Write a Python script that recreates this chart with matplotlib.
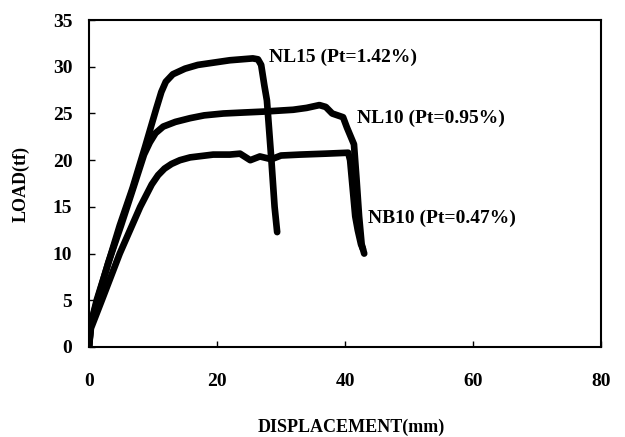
import matplotlib
matplotlib.use("Agg")
import matplotlib.pyplot as plt

# NL15 (Pt=1.42%)
nl15_x = [0, 0.3, 1.2, 2.8, 4.8, 6.8, 8.75, 10.5, 11.3, 12.0, 13.1, 15, 17, 19, 22, 25.6, 26.4, 26.9, 27.4, 27.8, 28.5, 29.0, 29.4]
nl15_y = [0, 2.5, 5.0, 8.5, 13.0, 17.0, 21.4, 25.5, 27.3, 28.4, 29.2, 29.8, 30.2, 30.4, 30.7, 30.9, 30.8, 30.2, 28.0, 26.4, 20.0, 15.0, 12.3]

# NL10 (Pt=0.95%)
nl10_x = [0, 0.3, 1.3, 3, 5, 7, 8.6, 9.5, 10.4, 11.6, 13.5, 15.8, 18, 21, 24, 27.2, 31.9, 34, 36, 37, 38, 39.7, 40.3, 41.4, 41.8, 42.2, 42.6, 43.0]
nl10_y = [0, 2.5, 5.0, 9.0, 13.0, 17.2, 20.6, 21.9, 22.9, 23.6, 24.1, 24.5, 24.8, 25.0, 25.1, 25.2, 25.4, 25.6, 25.9, 25.7, 25.0, 24.6, 23.5, 21.7, 18.0, 14.0, 11.0, 10.0]

# NB10 (Pt=0.47%)
nb10_x = [0, 0.3, 2.0, 4.8, 8, 9.8, 10.8, 11.8, 12.9, 14.2, 15.8, 19.4, 22, 23.6, 25.2, 26.7, 28.5, 30, 33, 37, 40.5, 40.8, 41.2, 41.6, 42.0, 42.5, 42.8]
nb10_y = [0, 2.0, 5.0, 10.0, 15.0, 17.4, 18.4, 19.1, 19.6, 20.0, 20.3, 20.6, 20.6, 20.7, 20.0, 20.4, 20.1, 20.5, 20.6, 20.7, 20.8, 20.0, 17.0, 14.0, 12.5, 11.0, 10.5]

labels = ["NL15 (Pt=1.42%)", "NL10 (Pt=0.95%)", "NB10 (Pt=0.47%)"]
label_pos = [(28.2, 31.0), (41.9, 24.5), (43.6, 13.8)]

x_ticks = [0, 20, 40, 60, 80]
y_ticks = [0, 5, 10, 15, 20, 25, 30, 35]

serif = ["Liberation Serif", "DejaVu Serif"]
plt.rcParams['font.family'] = serif

fig = plt.figure(figsize=(6.25, 4.37), dpi=100)
ax = fig.add_axes([0.1424, 0.206, 0.8192, 0.748])

for xs, ys in [(nl15_x, nl15_y), (nl10_x, nl10_y), (nb10_x, nb10_y)]:
    ax.plot(xs, ys, color="black", lw=4.8, solid_joinstyle="round", solid_capstyle="round")

for lab, (lx, ly) in zip(labels, label_pos):
    ax.text(lx, ly, lab, fontsize=14, fontweight="bold", ha="left", va="center")

ax.set_xlim(0, 80)
ax.set_ylim(0, 35)
ax.set_xticks(x_ticks)
ax.set_yticks(y_ticks)
ax.tick_params(axis="both", direction="in", length=4, width=1, labelsize=14)
ax.tick_params(axis="x", pad=19)
ax.tick_params(axis="y", pad=12)
for t in ax.get_xticklabels() + ax.get_yticklabels():
    t.set_fontweight("bold")
for s in ax.spines.values():
    s.set_linewidth(1.5)

ax.set_xlabel("DISPLACEMENT(mm)", fontsize=13, fontweight="bold")
ax.set_ylabel("LOAD(tf)", fontsize=13, fontweight="bold")
ax.yaxis.set_label_coords(-0.115, 0.5)
ax.xaxis.set_label_coords(0.512, -0.218)

fig.savefig("out.png", dpi=100)
